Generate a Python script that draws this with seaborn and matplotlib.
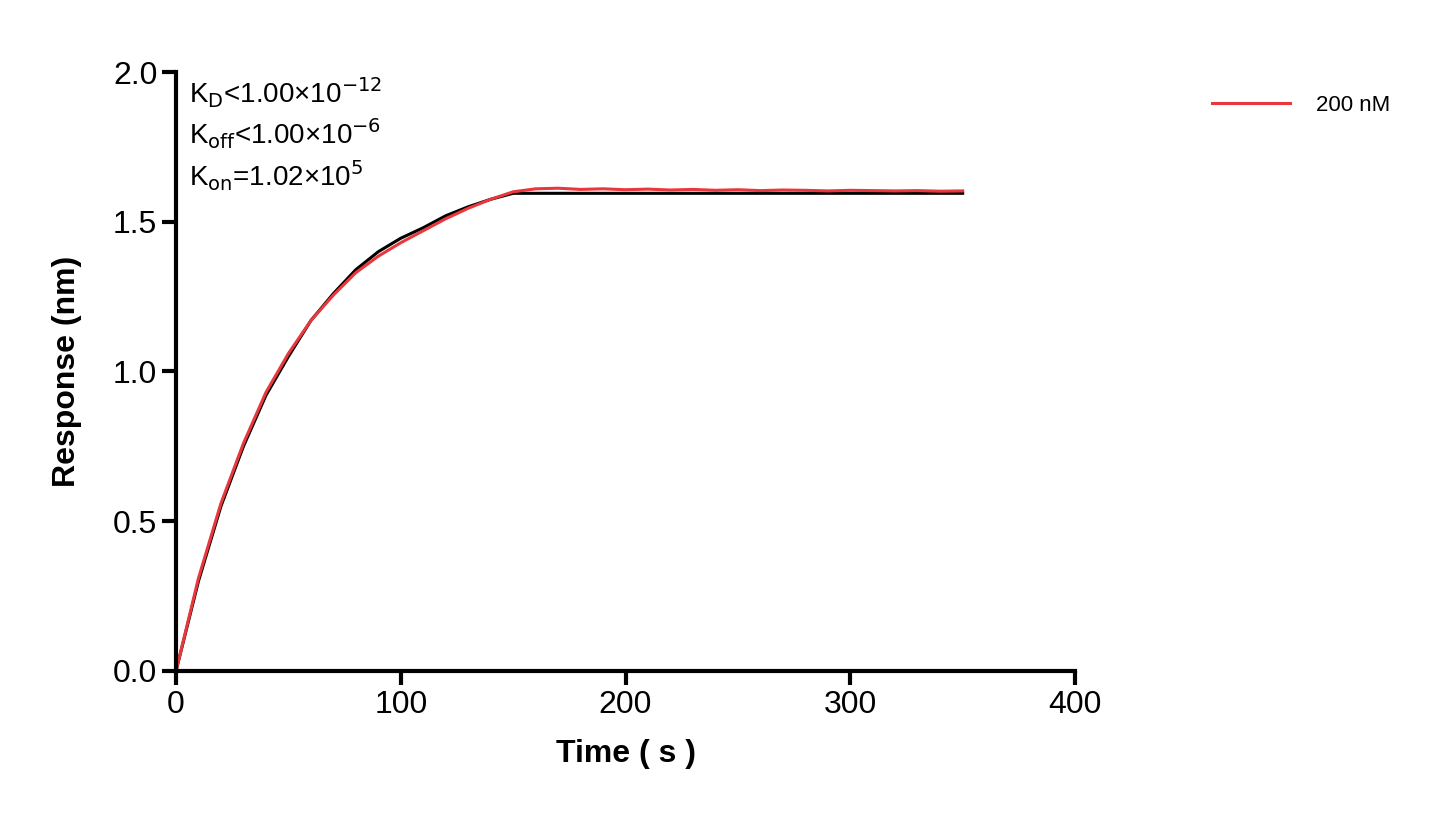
import numpy as np
import pandas as pd
import matplotlib
matplotlib.use("Agg")
import matplotlib.pyplot as plt
import seaborn as sns

time_s = [0, 10, 20, 30, 40, 50, 60, 70, 80, 90, 100, 110, 120, 130, 140, 150,
          160, 170, 180, 190, 200, 210, 220, 230, 240, 250, 260, 270, 280, 290,
          300, 310, 320, 330, 340, 350]
response_200nM = [0.0, 0.31, 0.56, 0.76, 0.93, 1.06, 1.17, 1.255, 1.33, 1.385, 1.43,
                  1.47, 1.51, 1.545, 1.575, 1.60, 1.61, 1.612, 1.608, 1.61, 1.607,
                  1.609, 1.606, 1.608, 1.605, 1.607, 1.604, 1.606, 1.605, 1.603,
                  1.605, 1.604, 1.603, 1.604, 1.602, 1.603]
fit_200nM = [0.0, 0.30, 0.55, 0.75, 0.92, 1.05, 1.17, 1.26, 1.34, 1.40, 1.445,
             1.48, 1.52, 1.55, 1.575, 1.595, 1.595, 1.595, 1.595, 1.595, 1.595,
             1.595, 1.595, 1.595, 1.595, 1.595, 1.595, 1.595, 1.595, 1.595,
             1.595, 1.595, 1.595, 1.595, 1.595, 1.595]

df = pd.DataFrame({"t": time_s, "resp": response_200nM, "fit": fit_200nM})

plt.rcParams["font.family"] = "Liberation Sans"
fig = plt.figure(figsize=(14.38, 8.25), dpi=100)
ax = fig.add_axes([0.1224, 0.1867, 0.6252, 0.726])

sns.lineplot(data=df, x="t", y="fit", ax=ax, color="black", lw=2.2)
sns.lineplot(data=df, x="t", y="resp", ax=ax, color="#e8383d", lw=2.2, label="200 nM")

ax.set_xlim(0, 400)
ax.set_ylim(0, 2.0)
ax.set_xticks([0, 100, 200, 300, 400])
ax.set_yticks([0, 0.5, 1.0, 1.5, 2.0])
ax.set_yticklabels(["0.0", "0.5", "1.0", "1.5", "2.0"])
for s in ["top", "right"]:
    ax.spines[s].set_visible(False)
for s in ["left", "bottom"]:
    ax.spines[s].set_linewidth(3)
ax.tick_params(width=3, length=10, labelsize=23)
ax.set_xlabel("Time ( s )", fontsize=23, fontweight="bold", labelpad=14)
ax.set_ylabel("Response (nm)", fontsize=23, fontweight="bold", labelpad=22)

ax.text(0.015, 0.995, "K$_\\mathrm{D}$<1.00×10$^{-12}$\nK$_\\mathrm{off}$<1.00×10$^{-6}$\nK$_\\mathrm{on}$=1.02×10$^{5}$",
        transform=ax.transAxes, va="top", fontsize=20, linespacing=1.25)

ax.legend(loc="upper left", bbox_to_anchor=(1.13, 0.995), frameon=False,
          fontsize=16, handlelength=3.5, handletextpad=1.2)

fig.savefig("out.png", dpi=100)
